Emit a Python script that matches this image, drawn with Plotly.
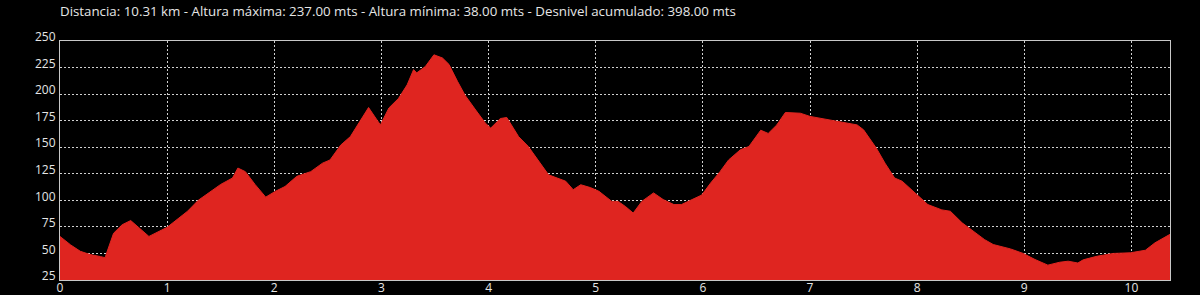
import plotly.graph_objects as go

# Distance along route (km)
distance_km = [
    0.00, 0.10, 0.19, 0.28, 0.38, 0.42, 0.50, 0.58, 0.66, 0.75, 0.83, 1.00,
    1.19, 1.29, 1.50, 1.61, 1.66, 1.73, 1.82, 1.92, 2.01, 2.10, 2.21, 2.34,
    2.45, 2.52, 2.62, 2.71, 2.80, 2.88, 2.99, 3.07, 3.16, 3.24, 3.30, 3.33,
    3.41, 3.49, 3.57, 3.63, 3.71, 3.78, 3.88, 3.97, 4.02, 4.11, 4.17, 4.28,
    4.37, 4.47, 4.56, 4.64, 4.72, 4.79, 4.86, 4.95, 5.03, 5.15, 5.21, 5.28,
    5.35, 5.43, 5.54, 5.63, 5.73, 5.80, 5.90, 5.99, 6.07, 6.16, 6.24, 6.35,
    6.43, 6.54, 6.61, 6.69, 6.77, 6.91, 7.00, 7.26, 7.44, 7.50, 7.62, 7.70,
    7.79, 7.86, 8.00, 8.10, 8.23, 8.31, 8.42, 8.63, 8.71, 8.87, 8.99, 9.10,
    9.22, 9.33, 9.41, 9.50, 9.55, 9.68, 9.83, 9.99, 10.13, 10.22, 10.36,
]

# Elevation (m)
elevation_m = [
    66, 58, 52, 49, 47, 46, 69, 77, 81, 73, 66, 74.6,
    89.7, 100, 115, 121, 130.4, 127, 115, 103, 108.5, 113, 122.6, 127,
    135, 138, 152, 160, 174, 187.4, 171, 187, 196, 208.7, 223, 220,
    226, 237, 234, 228, 212, 199, 185, 172.7, 168, 177, 178, 160,
    150.8, 136.7, 124, 121, 118, 110, 114.7, 112, 108.5, 99, 99, 94,
    88, 99, 107, 100.7, 96, 96, 100.7, 105, 116, 127, 138, 147.6,
    150.7, 166, 163, 171, 182.7, 182, 179, 174, 171, 166.4, 149, 135,
    121, 118, 105.4, 96, 91, 89.7, 78.8, 63, 58.4, 54.3, 50, 44.3,
    39, 41.7, 42.7, 41, 44, 47.4, 50, 50.6, 53, 60, 68,
]

y_ticks = [25, 50, 75, 100, 125, 150, 175, 200, 225, 250]
x_ticks = [0, 1, 2, 3, 4, 5, 6, 7, 8, 9, 10]

title_text = ("Distancia: 10.31 km - Altura máxima: 237.00 mts - "
              "Altura mínima: 38.00 mts - Desnivel acumulado: 398.00 mts")

RED = "#df2520"
GRID = "#d0d0d0"
AXIS = "#c8c8c8"
TEXT = "#e6e6e6"
FONT = "Open Sans"

fig = go.Figure()
fig.add_trace(go.Scatter(
    x=distance_km, y=elevation_m,
    mode="lines", fill="tozeroy",
    fillcolor=RED, line=dict(color=RED, width=1),
    hoverinfo="x+y",
))

fig.update_layout(
    width=1200, height=295,
    margin=dict(l=60, r=30, t=41, b=15, autoexpand=False),
    paper_bgcolor="#000000", plot_bgcolor="#000000",
    showlegend=False,
    font=dict(family=FONT, color=TEXT, size=12),
    title=dict(
        text=title_text, x=60 / 1200, xanchor="left", xref="container",
        y=1 - 11 / 295, yanchor="middle", yref="container",
        font=dict(family=FONT, size=13.3, color=TEXT),
    ),
)

fig.update_xaxes(
    range=[0, 10.36], tickvals=x_ticks, ticktext=[str(t) for t in x_ticks],
    showgrid=True, gridcolor=GRID, griddash="2px,2px", gridwidth=1,
    showline=True, linecolor=AXIS, linewidth=1, mirror=True,
    ticks="", zeroline=False, automargin=False,
    ticklabelstandoff=-3,
    tickfont=dict(family=FONT, size=12, color=TEXT),
)
fig.update_yaxes(
    range=[25, 250], tickvals=y_ticks, ticktext=[str(t) for t in y_ticks],
    showgrid=True, gridcolor=GRID, griddash="2px,2px", gridwidth=1,
    showline=True, linecolor=AXIS, linewidth=1, mirror=True,
    ticks="", zeroline=False, automargin=False,
    ticklabelshift=-4, ticklabelstandoff=1,
    tickfont=dict(family=FONT, size=12, color=TEXT),
)

fig.write_html("out.html")
